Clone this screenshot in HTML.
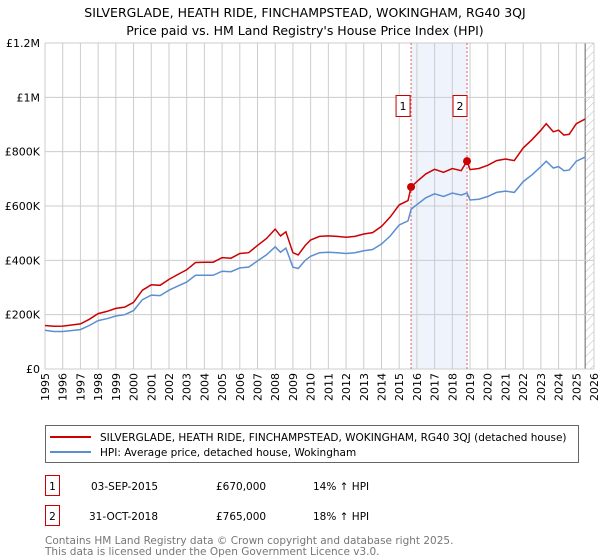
<!DOCTYPE html>
<html><head><meta charset="utf-8"><style>
body{margin:0;background:#fff;font-family:"DejaVu Sans","Liberation Sans",sans-serif;}
svg{display:block}
</style></head><body>
<svg id="chart" width="600" height="560" xmlns="http://www.w3.org/2000/svg" font-family="DejaVu Sans, Liberation Sans, sans-serif">
<text x="305" y="17" text-anchor="middle" font-size="12.5" fill="#000">SILVERGLADE, HEATH RIDE, FINCHAMPSTEAD, WOKINGHAM, RG40 3QJ</text>
<text x="305" y="35" text-anchor="middle" font-size="12.5" fill="#000">Price paid vs. HM Land Registry's House Price Index (HPI)</text>
<g id="grid"></g>
<g id="marks"></g>
<g id="axes"></g>
<g>
<rect x="45.5" y="425.5" width="533" height="37" fill="#fff" stroke="#666"/>
<line x1="50" y1="437" x2="91" y2="437" stroke="#cc0000" stroke-width="2"/>
<text x="100" y="441" font-size="10.5">SILVERGLADE, HEATH RIDE, FINCHAMPSTEAD, WOKINGHAM, RG40 3QJ (detached house)</text>
<line x1="50" y1="452" x2="91" y2="452" stroke="#5b8fd0" stroke-width="2"/>
<text x="100" y="456" font-size="10.5">HPI: Average price, detached house, Wokingham</text>
</g>
<g font-size="10.5">
<rect x="45.5" y="475.5" width="14" height="20" fill="#fff" stroke="#cc0000"/>
<text x="52.5" y="490" text-anchor="middle">1</text>
<text x="91" y="490">03-SEP-2015</text><text x="216" y="490">£670,000</text><text x="313" y="490">14% ↑ HPI</text>
<rect x="45.5" y="505.5" width="14" height="20" fill="#fff" stroke="#cc0000"/>
<text x="52.5" y="520" text-anchor="middle">2</text>
<text x="89" y="520">31-OCT-2018</text><text x="216" y="520">£765,000</text><text x="313" y="520">18% ↑ HPI</text>
</g>
<text x="45" y="544" font-size="10.5" fill="#777">Contains HM Land Registry data © Crown copyright and database right 2025.</text>
<text x="45" y="555" font-size="10.5" fill="#777">This data is licensed under the Open Government Licence v3.0.</text>
</svg>
<script>
const years=[1995,1995.5,1996,1997,1997.5,1998,1998.5,1999,1999.5,2000,2000.5,2001,2001.5,2002,2002.5,2003,2003.5,2004,2004.5,2005,2005.5,2006,2006.5,2007,2007.5,2008,2008.3,2008.6,2009,2009.3,2009.7,2010,2010.5,2011,2011.5,2012,2012.5,2013,2013.5,2014,2014.5,2015,2015.5,2015.67,2016,2016.5,2017,2017.5,2018,2018.5,2018.83,2019,2019.5,2020,2020.5,2021,2021.5,2022,2022.5,2023,2023.3,2023.7,2024,2024.3,2024.6,2025,2025.5];
const hpi=[143,138,138,145,160,178,185,195,200,215,255,272,270,290,305,320,345,345,345,360,358,372,375,398,420,450,430,445,375,370,400,415,428,430,428,425,428,435,440,460,490,530,545,588,605,630,645,635,648,640,648,622,625,635,650,655,650,690,715,745,765,740,745,730,732,765,780];
const red=[160,157,158,166,183,204,212,223,228,245,290,310,308,330,348,365,392,393,393,410,408,425,428,455,480,515,490,505,428,420,455,475,488,490,488,485,488,497,502,525,560,604,620,670,690,718,735,724,738,730,765,734,738,750,767,773,767,814,844,879,903,873,879,861,864,903,920];
const saleYears=[2015.67,2018.83];
const salePrices=[670,765];
const saleLabels=["1","2"];
const yTicks=[0,200,400,600,800,1000,1200];
const yTickLabels=["£0","£200K","£400K","£600K","£800K","£1M","£1.2M"];
const xTicks=[1995,1996,1997,1998,1999,2000,2001,2002,2003,2004,2005,2006,2007,2008,2009,2010,2011,2012,2013,2014,2015,2016,2017,2018,2019,2020,2021,2022,2023,2024,2025,2026];
const NS="http://www.w3.org/2000/svg";
const X0=45,X1=594,Y0=369,Y1=43;
const xs=v=>X0+(v-1995)/31*(X1-X0);
const ys=v=>Y0-v/1200*(Y0-Y1);
function mk(tag,attrs,parent){const e=document.createElementNS(NS,tag);for(const k in attrs)e.setAttribute(k,attrs[k]);parent.appendChild(e);return e;}
const grid=document.getElementById('grid'),marks=document.getElementById('marks'),axes=document.getElementById('axes');
let sh=mk('rect',{x:xs(saleYears[0]),y:Y1,width:xs(saleYears[1])-xs(saleYears[0]),height:Y0-Y1,fill:'#eef3fc'},grid);


let defs=mk('defs',{},grid);
let pat=mk('pattern',{id:'hatch',width:6,height:6,patternUnits:'userSpaceOnUse',patternTransform:'rotate(45)'},defs);
mk('line',{x1:0,y1:0,x2:0,y2:6,stroke:'#bbb','stroke-width':1},pat);
let hr=mk('rect',{x:xs(2025.5),y:Y1,width:X1-xs(2025.5),height:Y0-Y1,fill:'url(#hatch)'},grid);


mk('line',{x1:xs(2025.5),y1:Y1,x2:xs(2025.5),y2:Y0,stroke:'#666','stroke-width':1},grid);
xTicks.forEach(t=>{
 let l=mk('line',{x1:xs(t),y1:Y1,x2:xs(t),y2:Y0,stroke:'#ccc','stroke-width':1},grid);
 
 
 let tx=mk('text',{x:0,y:0,transform:`translate(${xs(t)+4},${Y0+4}) rotate(-90)`,'text-anchor':'end','font-size':'11'},axes);
 tx.textContent=t;
 
 
});
yTicks.forEach((t,i)=>{
 let l=mk('line',{x1:X0,y1:ys(t),x2:X1,y2:ys(t),stroke:'#ccc','stroke-width':1},grid);
 
 
 let tx=mk('text',{x:40,y:ys(t)+4,'text-anchor':'end','font-size':'11'},axes);
 tx.textContent=yTickLabels[i];
 
 
});
saleYears.forEach((s,i)=>{
 let l=mk('line',{x1:xs(s),y1:Y1,x2:xs(s),y2:Y0,stroke:'#e06060','stroke-width':1,'stroke-dasharray':'2,2'},grid);
 
 
});
function path(vals,color,name){
 let d=years.map((y,i)=>(i?'L':'M')+xs(y).toFixed(1)+','+ys(vals[i]).toFixed(1)).join('');
 let p=mk('path',{d:d,fill:'none',stroke:color,'stroke-width':1.5},marks);
 
 
}
path(hpi,'#5b8fd0','hpi-line');
path(red,'#cc0000','property-price-line');
saleYears.forEach((s,i)=>{
 let c=mk('circle',{cx:xs(s),cy:ys(salePrices[i]),r:4,fill:'#cc0000'},marks);
 
 
 let bx=xs(s)-(i==0?8:7);
 let r=mk('rect',{x:bx-7,y:95.5,width:14,height:21,fill:'#fff',stroke:'#cc0000'},marks);
 
 
 let t=mk('text',{x:bx,y:110,'text-anchor':'middle','font-size':'11'},marks);
 t.textContent=saleLabels[i];
 
 
});
</script>
</body></html>
